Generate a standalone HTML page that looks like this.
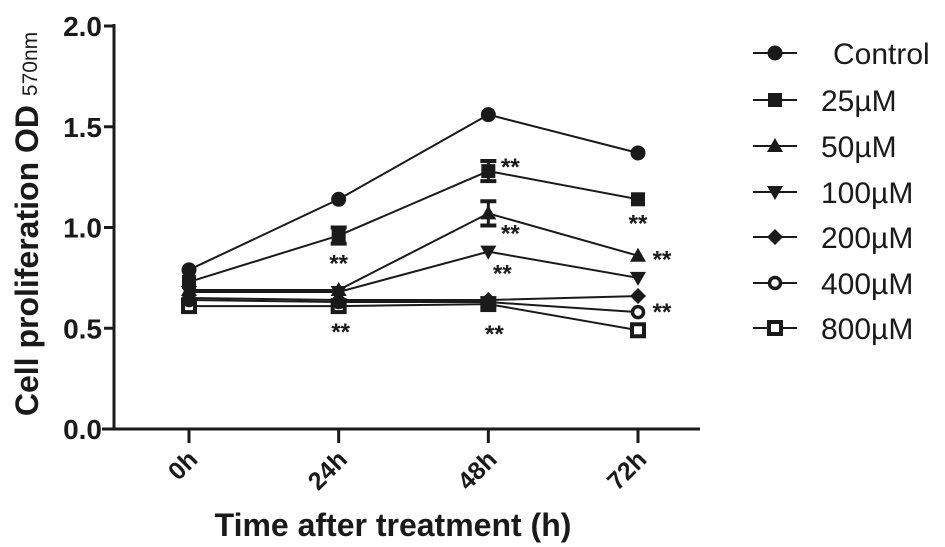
<!DOCTYPE html>
<html><head><meta charset="utf-8"><style>
html,body{margin:0;padding:0;background:#fff}
svg{display:block}
text{font-family:"Liberation Sans",Arial,sans-serif;fill:#1a1a1a}
</style></head><body>
<svg id="chart" width="945" height="547" viewBox="0 0 945 547" xmlns="http://www.w3.org/2000/svg"></svg>
<script>
const categories = ["0h","24h","48h","72h"];
const seriesNames = ["Control","25\u00b5M","50\u00b5M","100\u00b5M","200\u00b5M","400\u00b5M","800\u00b5M"];
const markerTypes = ["circle","square","triUp","triDown","diamond","openCircle","openSquare"];
const controlVals = [0.79,1.14,1.56,1.37];
const v25 = [0.73,0.96,1.28,1.14];
const v50 = [0.69,0.69,1.07,0.86];
const v100 = [0.68,0.68,0.88,0.75];
const v200 = [0.65,0.64,0.64,0.66];
const v400 = [0.64,0.63,0.63,0.58];
const v800 = [0.61,0.61,0.62,0.49];
const err25 = [0,0.04,0.05,0];
const err50 = [0,0,0.06,0];
const yTicks = [0.0,0.5,1.0,1.5,2.0];
const yTickLabels = ["0.0","0.5","1.0","1.5","2.0"];
const starSeries = [1,1,1,2,2,3,5,5,6];
const starCats = [1,2,3,2,3,2,3,1,2];

const NS="http://www.w3.org/2000/svg";
const svg=document.getElementById('chart');
const X0=114, Y0=429, YTOP=26, XA=[189,338,488,638];
function x(i){return XA[0]+(XA[3]-XA[0])*i/(categories.length-1);}
function y(v){return Y0-(Y0-YTOP)*v/2.0;}
function mk(tag,attrs,parent){const e=document.createElementNS(NS,tag);for(const k in attrs)e.setAttribute(k,attrs[k]);(parent||svg).appendChild(e);return e;}
const allVals=[controlVals,v25,v50,v100,v200,v400,v800];
const errs=[null,err25,err50,null,null,null,null];

function marker(type,cx,cy,g){
  let e;
  if(type==="circle") e=mk('circle',{cx:cx,cy:cy,r:7.5,fill:'#1a1a1a'},g);
  else if(type==="square") e=mk('rect',{x:cx-7,y:cy-7,width:14,height:14,fill:'#1a1a1a'},g);
  else if(type==="triUp") e=mk('polygon',{points:`${cx},${cy-8} ${cx+8},${cy+6} ${cx-8},${cy+6}`,fill:'#1a1a1a'},g);
  else if(type==="triDown") e=mk('polygon',{points:`${cx},${cy+8} ${cx+8},${cy-6} ${cx-8},${cy-6}`,fill:'#1a1a1a'},g);
  else if(type==="diamond") e=mk('polygon',{points:`${cx},${cy-8} ${cx+8},${cy} ${cx},${cy+8} ${cx-8},${cy}`,fill:'#1a1a1a'},g);
  else if(type==="openCircle") e=mk('circle',{cx:cx,cy:cy,r:5.5,fill:'#fff',stroke:'#1a1a1a','stroke-width':3.5},g);
  else e=mk('rect',{x:cx-6,y:cy-6,width:12,height:12,fill:'#fff',stroke:'#1a1a1a','stroke-width':4},g);
  return e;
}

const ax=mk('g',{});


mk('line',{x1:X0,y1:YTOP-2,x2:X0,y2:Y0+1.5,stroke:'#1a1a1a','stroke-width':3},ax);
mk('line',{x1:X0-12,y1:Y0,x2:700,y2:Y0,stroke:'#1a1a1a','stroke-width':3},ax);
yTicks.forEach((t,i)=>{
  mk('line',{x1:X0-10,y1:y(t),x2:X0,y2:y(t),stroke:'#1a1a1a','stroke-width':3},ax);
  const tx=mk('text',{x:X0-12,y:y(t)+10,'text-anchor':'end','font-size':28,'font-weight':'bold'},ax);
  tx.textContent=yTickLabels[i];
  
  
});
categories.forEach((c,i)=>{
  mk('line',{x1:x(i),y1:Y0,x2:x(i),y2:Y0+14,stroke:'#1a1a1a','stroke-width':3},ax);
  const tx=mk('text',{x:0,y:0,'text-anchor':'end','font-size':25,'font-weight':'bold',transform:`translate(${x(i)+10},${Y0+32}) rotate(-45)`},ax);
  tx.textContent=c;
  
  
});
const xt=mk('text',{x:393,y:536,'text-anchor':'middle','font-size':32,'font-weight':'bold'});
xt.textContent='Time after treatment (h)';


const yt=mk('text',{x:0,y:0,'text-anchor':'middle','font-size':32,'font-weight':'bold',transform:'translate(38,224) rotate(-90)'});
yt.innerHTML='Cell proliferation OD <tspan font-size="21" font-weight="normal" dy="-1"> 570nm</tspan>';



for(let s=allVals.length-1;s>=0;s--){
  const g=mk('g',{});
  
  
  const vals=allVals[s];
  mk('polyline',{points:vals.map((v,i)=>x(i)+','+y(v)).join(' '),fill:'none',stroke:'#1a1a1a','stroke-width':2},g);
  if(errs[s]) errs[s].forEach((e,i)=>{ if(e>0){
    const cx=x(i),a=y(vals[i]+e),b=y(vals[i]-e);
    mk('line',{x1:cx,y1:a,x2:cx,y2:b,stroke:'#1a1a1a','stroke-width':3},g);
    mk('line',{x1:cx-8,y1:a,x2:cx+8,y2:a,stroke:'#1a1a1a','stroke-width':4},g);
    mk('line',{x1:cx-8,y1:b,x2:cx+8,y2:b,stroke:'#1a1a1a','stroke-width':4},g);
  }});
  vals.forEach((v,i)=>{
    const m=marker(markerTypes[s],x(i),y(v),g);
    
    
  });
}
const starOff={ '1,1':[0,26],'1,2':[22,-6],'1,3':[0,22],'2,2':[22,18],'2,3':[24,2],'3,2':[14,20],'5,3':[24,-2],'5,1':[2,28],'6,2':[6,28] };
starSeries.forEach((s,k)=>{
  const c=starCats[k]; const key=s+','+c; if(!starOff[key]) return;
  const o=starOff[key];
  const st=mk('text',{x:x(c)+o[0],y:y(allVals[s][c])+o[1]+10,'text-anchor':'middle','font-size':24,'font-weight':'bold'});
  st.textContent='**';
  
  
});

const lg=mk('g',{});


const legY=[53,100,146,192,237,283,328];
seriesNames.forEach((n,i)=>{
  const g=mk('g',{},lg);
  
  
  mk('line',{x1:753,y1:legY[i],x2:797,y2:legY[i],stroke:'#1a1a1a','stroke-width':2},g);
  marker(markerTypes[i],775,legY[i],g);
  const t=mk('text',{x:i===0?833:821,y:legY[i]+11,'font-size':30},g);
  t.textContent=n;
});
</script>
</body></html>
